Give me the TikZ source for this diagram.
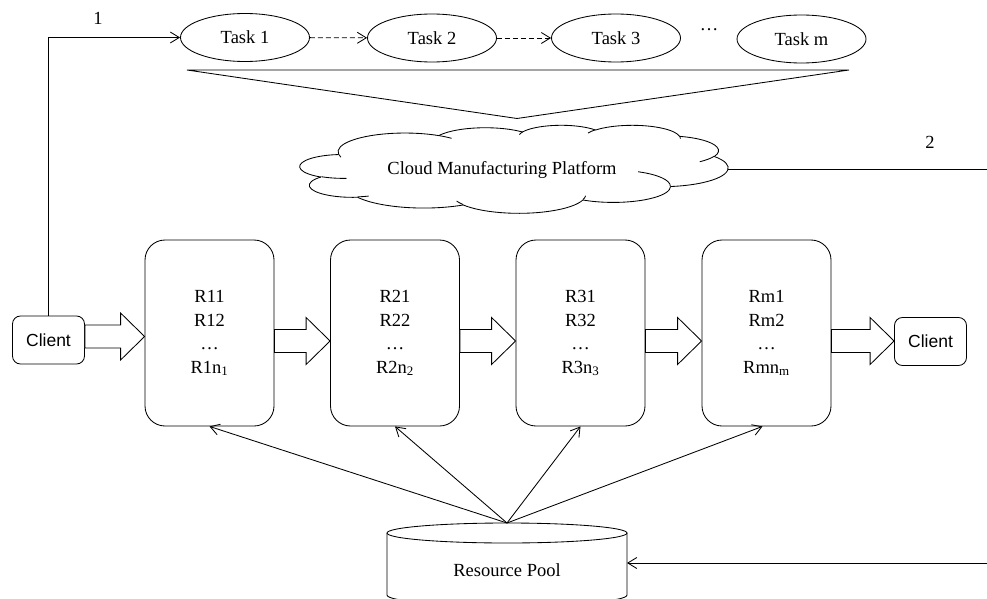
\documentclass[tikz,border=0pt]{standalone}
\usepackage{fontspec}
\setmainfont{Liberation Serif}
\newfontfamily\clientfont{Liberation Sans}
\usetikzlibrary{arrows.meta,shapes.geometric,calc}

\newcommand{\figfont}{\fontsize{18.5}{23.5}\selectfont}

\tikzset{
  ln/.style={line width=0.85pt, draw=black},
  tip/.style={-{Straight Barb[length=9pt,width=11pt]}},
  dsh/.style={dash pattern=on 5pt off 3pt},
  task/.style={ellipse, ln, minimum width=129pt, minimum height=48pt, inner sep=0pt, font=\figfont},
  resbox/.style={rectangle, ln, rounded corners=20pt, minimum width=129pt, minimum height=186pt,
                 align=center, font=\figfont},
  client/.style={rectangle, ln, rounded corners=8pt, minimum width=72pt, minimum height=48pt,
                 font=\clientfont\fontsize{17.5}{20}\selectfont},
  lbl/.style={font=\figfont, inner sep=0pt},
  fat/.style={ln, fill=white, line join=miter},
}

% hollow block arrow from node #1 to node #2 along height #3
\newcommand{\fatarrow}[3]{%
  \coordinate (fa-s) at (#1.east |- 0,#3);
  \coordinate (fa-t) at (#2.west |- 0,#3);
  \draw[fat] ($(fa-s)+(0,-11.5)$) -- ($(fa-t)+(-24,-11.5)$) -- ($(fa-t)+(-24,-23.5)$)
    -- (fa-t) -- ($(fa-t)+(-24,23.5)$) -- ($(fa-t)+(-24,11.5)$) -- ($(fa-s)+(0,11.5)$) -- cycle;
}

% elliptical arc given by radii and a visual start angle / sweep (degrees),
% starting at point #1; its end is stored as coordinate (oa)
\newcommand{\cloudarc}[5]{%
  \pgfmathsetmacro\oaS{atan2(#2*sin(#4), #3*cos(#4))}%
  \pgfmathsetmacro\oaE{atan2(#2*sin(#4+#5), #3*cos(#4+#5))}%
  \pgfmathsetmacro\oaE{\oaE<\oaS ? \oaE+360 : \oaE}%
  \draw[ln] (#1) arc[start angle=\oaS, end angle=\oaE, x radius=#2, y radius=#3] coordinate (oa);
}

\begin{document}
\begin{tikzpicture}[x=1pt, y=-1pt]
\useasboundingbox (0,0) rectangle (987,599);

% task chain
\node[task] (t1) at (245,37.5) {Task 1};
\node[task] (t2) at (432,38) {Task 2};
\node[task] (t3) at (616,38) {Task 3};
\node[task] (tm) at (801.5,39) {Task m};
\node[lbl] (tdots) at (709,30) {…};
\draw[ln, dsh, tip] (t1) -- (t2);
\draw[ln, dsh, tip] (t2) -- (t3);

% funnel into the platform
\coordinate (f1) at (187,70);
\coordinate (f2) at (849,70);
\coordinate (fa) at (517,118.5);
\draw[ln] (f1) -- (f2) -- (fa) -- cycle;

% platform cloud (outline in a 432 x 432 frame)
\begin{scope}[shift={(300,125)}, x=0.99074pt, y=-0.2037pt]
  \coordinate (oa) at (39.00,143.70);
  \cloudarc{oa}{67.53}{91.90}{-190.4875}{123.7805}
  \cloudarc{oa}{53.33}{72.67}{-144.1024}{89.9452}
  \cloudarc{oa}{43.65}{59.45}{-145.8079}{99.7230}
  \cloudarc{oa}{48.57}{65.95}{-130.9861}{117.2417}
  \cloudarc{oa}{53.33}{72.73}{-78.7089}{109.0269}
  \cloudarc{oa}{67.75}{92.20}{-46.2673}{130.2690}
  \cloudarc{oa}{57.85}{78.67}{0.6250}{114.0333}
  \cloudarc{oa}{67.52}{92.15}{22.4516}{115.1726}
  \cloudarc{oa}{77.20}{105.43}{66.2426}{75.7110}
  \cloudarc{oa}{43.60}{59.18}{-274.9421}{146.7356}
  \cloudarc{oa}{43.45}{59.45}{-246.8285}{152.5189}
  % inner tails of the puffs
  \coordinate (oa) at (46.93,261.77);  \cloudarc{oa}{43.45}{59.45}{86.7420}{26.4295}
  \coordinate (oa) at (69.28,348.99);  \cloudarc{oa}{43.60}{59.18}{73.6105}{11.4475}
  \coordinate (oa) at (164.78,390.90); \cloudarc{oa}{67.52}{92.15}{137.6242}{14.0811}
  \coordinate (oa) at (288.27,347.51); \cloudarc{oa}{67.52}{92.15}{6.4533}{15.9984}
  \coordinate (oa) at (341.29,229.54); \cloudarc{oa}{57.85}{78.67}{-70.2924}{70.9174}
  \coordinate (oa) at (417.98,153.54); \cloudarc{oa}{53.33}{72.73}{30.3180}{27.7515}
  \coordinate (oa) at (383.24,54.26);  \cloudarc{oa}{48.57}{65.95}{-13.7443}{14.8589}
  \coordinate (oa) at (290.78,39.52);  \cloudarc{oa}{48.57}{65.95}{-149.1815}{18.1954}
  \coordinate (oa) at (221.41,47.20);  \cloudarc{oa}{43.65}{59.45}{-163.4943}{17.6864}
  \coordinate (oa) at (140.00,51.92);  \cloudarc{oa}{67.53}{91.90}{-66.7070}{12.3194}
  \coordinate (oa) at (41.27,157.89);  \cloudarc{oa}{67.53}{91.90}{157.6544}{11.8582}
\end{scope}
\coordinate (cloudE) at (727.5,169);
\node[lbl] (cmp) at (502,170) {Cloud Manufacturing Platform};
\coordinate (redge) at (987,169);
\draw[ln] (cloudE) -- (redge);
\node[lbl] (l2) at (930,142) {2};

% clients and resource boxes
\node[client] (c1) at (48.5,340) {Client};
\node[client] (c2) at (930.5,341.5) {Client};
\node[resbox] (b1) at (209.5,333) {R11\\R12\\…\\R1n\textsubscript{1}};
\node[resbox] (b2) at (395,333) {R21\\R22\\…\\R2n\textsubscript{2}};
\node[resbox] (b3) at (580.5,333) {R31\\R32\\…\\R3n\textsubscript{3}};
\node[resbox] (b4) at (766.5,333) {Rm1\\Rm2\\…\\Rmn\textsubscript{m}};

\fatarrow{c1}{b1}{336.5}
\fatarrow{b1}{b2}{341}
\fatarrow{b2}{b3}{341}
\fatarrow{b3}{b4}{341}
\fatarrow{b4}{c2}{341}

% client request path
\draw[ln, tip] (c1.north) |- (t1.west);
\node[lbl] (l1) at (98,18) {1};

% resource pool cylinder
\draw[ln] (507,533) ellipse [x radius=120, y radius=10];
\draw[ln] (387,533) -- (387,595) .. controls (387,608.3) and (627,608.3) .. (627,595) -- (627,533);
\node[lbl] (pool) at (507,570) {Resource Pool};
\coordinate (ptop) at (507,523);
\coordinate (pright) at (627,563);
\coordinate (bedge) at (987,563);

\draw[ln, tip] (ptop) -- (b1.south);
\draw[ln, tip] (ptop) -- (b2.south);
\draw[ln, tip] (ptop) -- (b3.south);
\draw[ln, tip] (ptop) -- ($(b4.south)+(-4,0)$);
\draw[ln, tip] (bedge) -- (pright);
\end{tikzpicture}
\end{document}
